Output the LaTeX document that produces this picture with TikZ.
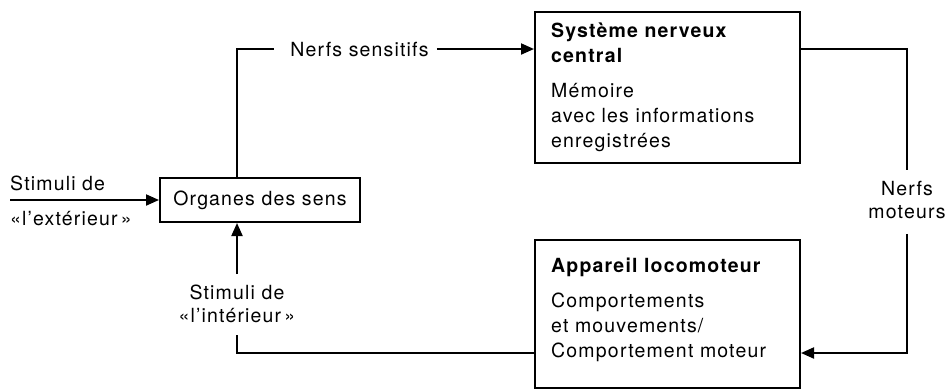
\documentclass[tikz,border=0pt]{standalone}
\usepackage{fontspec}
\setmainfont[LetterSpace=6]{TeX Gyre Heros}
\usetikzlibrary{arrows.meta}
\tikzset{
  every node/.style={font=\fontsize{19.5}{25}\selectfont},
  box/.style={draw, line width=2pt, inner sep=0pt},
  txt/.style={inner sep=0pt},
  conn/.style={line width=2pt},
  arr/.style={line width=2pt, -{Triangle[length=13pt,width=11pt]}},
}
\begin{document}
\begin{tikzpicture}[x=1pt,y=-1pt]
\useasboundingbox (0,0) rectangle (947,388);

% boxes
\node[box, minimum width=200pt, minimum height=44pt] (org) at (260,200) {Organes des sens};
\node[box, minimum width=265pt, minimum height=151pt] (sns) at (667.5,87.5) {};
\node[box, minimum width=265pt, minimum height=148pt] (loc) at (667.5,314) {};

% box texts
\node[txt, anchor=north west, align=left] (snstxt) at (551,22.5)
  {\textbf{Système nerveux}\\\textbf{central}\\[10pt]Mémoire\\avec les informations\\enregistrées};
\node[txt, anchor=north west, align=left] (loctxt) at (551,257.5)
  {\textbf{Appareil locomoteur}\\[10pt]Comportements\\et mouvements/\\Comportement moteur};

% labels
\node[txt, anchor=base west] (ext1) at (10,190) {Stimuli de};
\node[txt, anchor=base west] (ext2) at (10,225) {«l’extérieur\,»};
\node[txt, anchor=base] (nsl) at (359.5,56) {Nerfs sensitifs};
\node[txt, anchor=north, align=center, font=\fontsize{19.5}{23}\selectfont] (nm) at (907,181) {Nerfs\\moteurs};
\node[txt, anchor=north, align=center, font=\fontsize{19.5}{23}\selectfont] (si) at (237,285) {Stimuli de\\«l’intérieur\,»};

% connectors
\coordinate (in) at (10,200);
\draw[arr] (in) -- (org.west);
\draw[conn] ([xshift=-23pt]org.north) |- ([xshift=-16pt]nsl.west);
\draw[arr] ([xshift=8pt]nsl.east) -- (nsl.east -| sns.west);
\draw[conn] ([yshift=-38pt]sns.north east) -| ([yshift=11pt]nm.north);
\draw[arr] ([yshift=-15pt]nm.south) |- ([yshift=-39pt]loc.east);
\draw[conn] ([yshift=-39pt]loc.west) -| ([yshift=-12pt]si.south);
\draw[arr] ([yshift=11pt]si.north) -- (si.north |- org.south);
\end{tikzpicture}
\end{document}
